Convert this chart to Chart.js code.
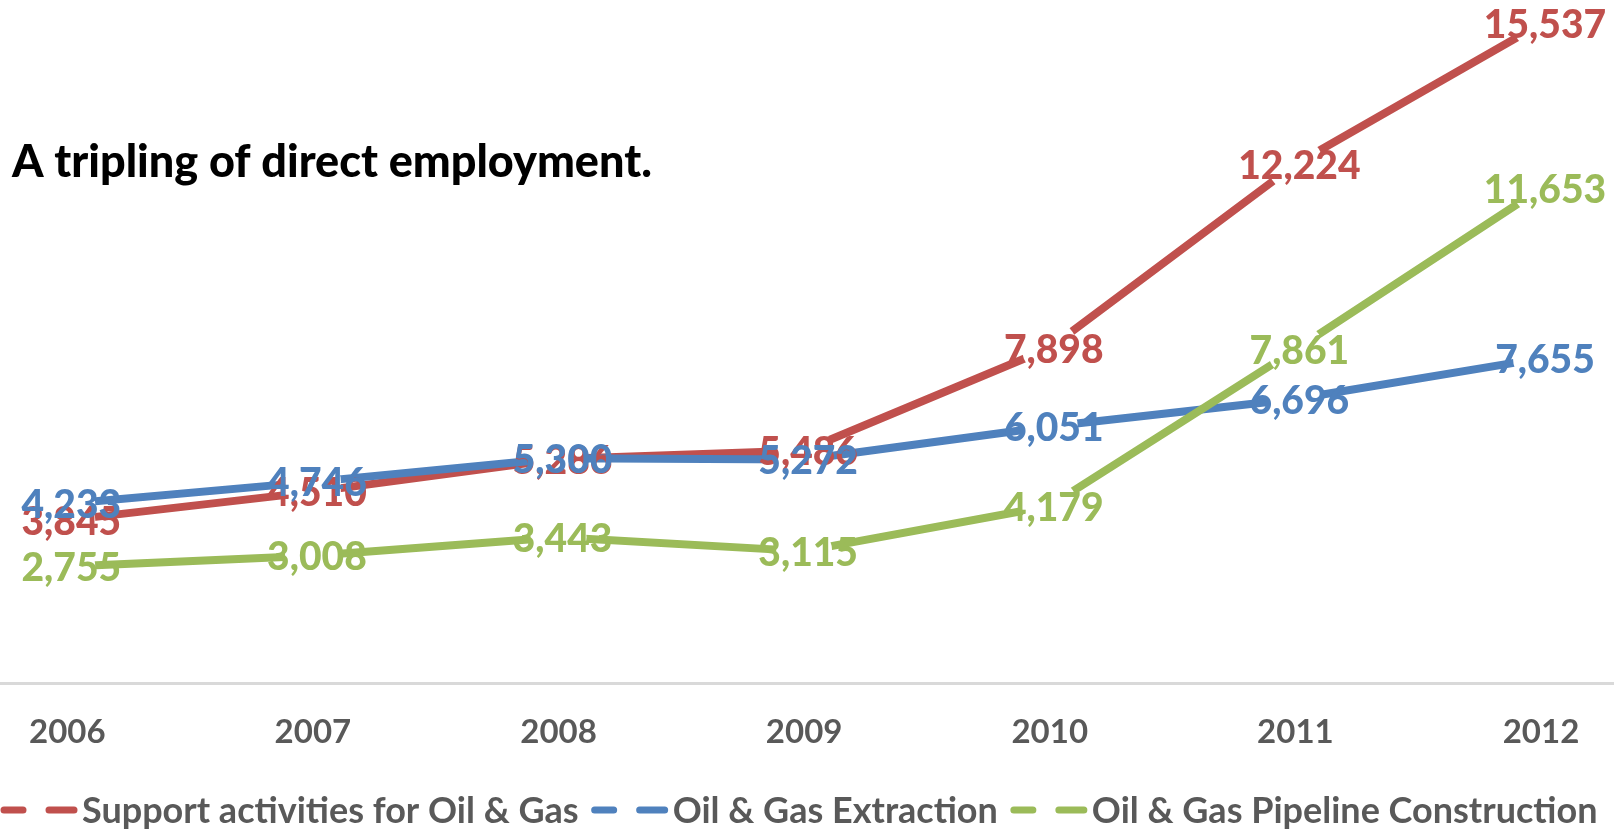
<!DOCTYPE html>
<html>
<head>
<meta charset="utf-8">
<script src="https://cdn.jsdelivr.net/npm/chart.js@4"></script>
<style>
  html, body { margin: 0; padding: 0; background: #fff; }
  #wrap { width: 1614px; height: 833px; position: relative; }
</style>
</head>
<body>
<div id="wrap"><canvas id="chart"></canvas></div>
<script>
// chart data
const years = ['2006', '2007', '2008', '2009', '2010', '2011', '2012'];
const supportValues = [3845, 4510, 5286, 5486, 7898, 12224, 15537];
const extractionValues = [4233, 4746, 5300, 5272, 6051, 6696, 7655];
const pipelineValues = [2755, 3008, 3443, 3115, 4179, 7861, 11653];
const seriesNames = ['Support activities for Oil & Gas', 'Oil & Gas Extraction', 'Oil & Gas Pipeline Construction'];
const seriesColors = ['#C0504D', '#4F81BD', '#9BBB59'];
const titleText = 'A tripling of direct employment.';

const FONT = 'Lato, "Open Sans", sans-serif';

function makeDataset(i, values) {
  return {
    label: seriesNames[i],
    data: values,
    borderColor: seriesColors[i],
    borderWidth: 8,
    borderCapStyle: 'round',
    borderJoinStyle: 'round',
    tension: 0,
    pointRadius: 28,
    pointHoverRadius: 28,
    pointBackgroundColor: '#fff',
    pointBorderWidth: 0,
    pointHoverBorderWidth: 0,
    order: 3 - i
  };
}

// axis line, title, data labels and legend
const decorPlugin = {
  id: 'decor',
  beforeDatasetsDraw(chart) {
    const ctx = chart.ctx;
    const y0 = chart.scales.y.getPixelForValue(0);
    ctx.save();
    ctx.strokeStyle = '#d9d9d9';
    ctx.lineWidth = 3;
    ctx.beginPath();
    ctx.moveTo(0, y0);
    ctx.lineTo(chart.width, y0);
    ctx.stroke();
    ctx.restore();
  },
  afterDatasetsDraw(chart) {
    const ctx = chart.ctx;
    ctx.save();
    // data labels, first series underneath
    ctx.font = '900 39px ' + FONT;
    ctx.textAlign = 'center';
    ctx.textBaseline = 'middle';
    chart.data.datasets.forEach((ds, i) => {
      const meta = chart.getDatasetMeta(i);
      ctx.fillStyle = seriesColors[i];
      meta.data.forEach((pt, j) => {
        ctx.fillText(ds.data[j].toLocaleString('en-US'), pt.x + 4, pt.y + 2);
      });
    });

    // title
    ctx.fillStyle = '#000';
    ctx.textAlign = 'left';
    ctx.textBaseline = 'alphabetic';
    ctx.font = '900 45px ' + FONT;
    ctx.fillText(titleText, 12, 177);

    // legend
    ctx.font = 'bold 36px ' + FONT;
    ctx.fillStyle = '#595959';
    let x = 4;
    const ly = 823;
    seriesNames.forEach((name, i) => {
      ctx.strokeStyle = seriesColors[i];
      ctx.lineWidth = 7;
      ctx.lineCap = 'round';
      ctx.beginPath();
      ctx.moveTo(x, ly - 13);
      ctx.lineTo(x + 19, ly - 13);
      ctx.moveTo(x + 45, ly - 13);
      ctx.lineTo(x + 70, ly - 13);
      ctx.stroke();
      ctx.fillText(name, x + 78, ly);
      x += 78 + ctx.measureText(name).width + 16;
    });
    ctx.restore();
  }
};

new Chart(document.getElementById('chart'), {
  type: 'line',
  data: {
    labels: years,
    datasets: [
      makeDataset(0, supportValues),
      makeDataset(1, extractionValues),
      makeDataset(2, pipelineValues)
    ]
  },
  options: {
    responsive: true,
    maintainAspectRatio: false,
    animation: false,
    events: [],
    layout: {
      autoPadding: false,
      padding: { left: 57, right: 73, top: 4, bottom: 52 }
    },
    plugins: {
      legend: { display: false },
      tooltip: { enabled: false },
      title: { display: false }
    },
    scales: {
      x: {
        offset: false,
        grid: { display: false, drawTicks: false },
        border: { display: false },
        ticks: {
          color: '#595959',
          font: { family: FONT, size: 33, weight: 'bold' },
          padding: 29,
          maxRotation: 0,
          autoSkip: false
        }
      },
      y: {
        display: false,
        min: 0,
        max: 16000
      }
    }
  },
  plugins: [decorPlugin]
});
</script>
</body>
</html>
